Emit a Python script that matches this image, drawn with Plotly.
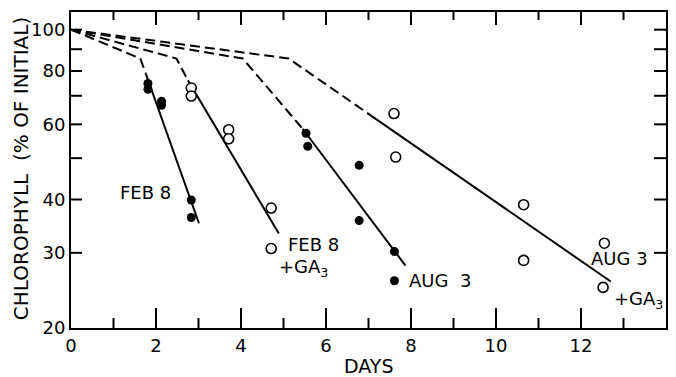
import plotly.graph_objects as go
import math

# ---------------- data ----------------
feb8_days = [1.81, 1.81, 2.13, 2.13, 2.83, 2.83]
feb8_chl = [74.8, 72.5, 68.0, 66.5, 39.9, 36.3]

feb8ga_days = [2.83, 2.83, 3.71, 3.71, 4.71, 4.71]
feb8ga_chl = [73.0, 69.9, 58.3, 55.5, 38.2, 30.7]

aug3_days = [5.53, 5.57, 6.78, 6.78, 7.61, 7.61]
aug3_chl = [57.2, 53.3, 48.1, 35.7, 30.2, 25.8]

aug3ga_days = [7.60, 7.64, 10.65, 10.65, 12.55, 12.52]
aug3ga_chl = [63.6, 50.3, 38.9, 28.8, 31.6, 24.9]

# fitted curves: dashed part then solid part
feb8_dash_x = [0, 1.63, 1.76]
feb8_dash_y = [100, 85.6, 78.9]
feb8_solid_x = [1.76, 3.01]
feb8_solid_y = [78.9, 35.2]

feb8ga_dash_x = [0, 2.48, 2.75]
feb8ga_dash_y = [100, 85.6, 76.1]
feb8ga_solid_x = [2.75, 4.89]
feb8ga_solid_y = [76.1, 33.3]

aug3_dash_x = [0, 4.04, 5.45]
aug3_dash_y = [100, 85.6, 58.6]
aug3_solid_x = [5.45, 7.87]
aug3_solid_y = [58.6, 28.0]

aug3ga_dash_x = [0, 5.12, 7.05]
aug3ga_dash_y = [100, 85.6, 63.0]
aug3ga_solid_x = [7.05, 12.70]
aug3ga_solid_y = [63.0, 25.7]

x_ticks = [0, 2, 4, 6, 8, 10, 12, 14]
x_minor = [1, 3, 5, 7, 9, 11, 13]
y_ticks = [20, 30, 40, 60, 80, 100]
y_tick_marks = [30, 40, 50, 60, 70, 80, 90, 100]

# ---------------- figure ----------------
W, H = 676, 377
L, R, T, B = 71, 8, 12, 49
PW = W - L - R
PH = H - T - B
FONT = "DejaVu Sans"
INK = "black"
X_RANGE = [0, 14]
Y_LO, Y_HI = 20, 110
yr = [math.log10(Y_LO), math.log10(Y_HI)]

fig = go.Figure()

def add_line(xs, ys, dash):
    fig.add_trace(go.Scatter(x=xs, y=ys, mode="lines",
                             line=dict(color=INK, width=2, dash=dash),
                             showlegend=False, hoverinfo="skip"))

for xs, ys in [(feb8_dash_x, feb8_dash_y), (feb8ga_dash_x, feb8ga_dash_y),
               (aug3_dash_x, aug3_dash_y), (aug3ga_dash_x, aug3ga_dash_y)]:
    add_line(xs, ys, "10px,5px")
for xs, ys in [(feb8_solid_x, feb8_solid_y), (feb8ga_solid_x, feb8ga_solid_y),
               (aug3_solid_x, aug3_solid_y), (aug3ga_solid_x, aug3ga_solid_y)]:
    add_line(xs, ys, "solid")

# inward tick marks along the frame, built from the tick arrays on the axis scales
px_per_decade = PH / (yr[1] - yr[0])
x_per_px = (X_RANGE[1] - X_RANGE[0]) / PW

tx, ty = [], []
def seg(x0, y0, x1, y1):
    tx.extend([x0, x1, None])
    ty.extend([y0, y1, None])

for v in x_ticks[1:-1]:
    seg(v, Y_LO, v, Y_LO * 10 ** (20 / px_per_decade))
    seg(v, Y_HI, v, Y_HI / 10 ** (13 / px_per_decade))
for v in x_minor:
    seg(v, Y_LO, v, Y_LO * 10 ** (10 / px_per_decade))
    seg(v, Y_HI, v, Y_HI / 10 ** (8 / px_per_decade))
for v in y_tick_marks:
    seg(X_RANGE[0], v, X_RANGE[0] + 11 * x_per_px, v)
    seg(X_RANGE[1], v, X_RANGE[1] - 12 * x_per_px, v)

fig.add_trace(go.Scatter(x=tx, y=ty, mode="lines", line=dict(color=INK, width=2),
                         connectgaps=False, showlegend=False, hoverinfo="skip"))

filled = dict(symbol="circle", size=9, color=INK, line=dict(width=0))
opened = dict(symbol="circle", size=10, color="white", line=dict(color=INK, width=1.6))

fig.add_trace(go.Scatter(x=feb8_days, y=feb8_chl, mode="markers", marker=filled, showlegend=False))
fig.add_trace(go.Scatter(x=feb8ga_days, y=feb8ga_chl, mode="markers", marker=opened, showlegend=False))
fig.add_trace(go.Scatter(x=aug3_days, y=aug3_chl, mode="markers", marker=filled, showlegend=False))
fig.add_trace(go.Scatter(x=aug3ga_days, y=aug3ga_chl, mode="markers", marker=opened, showlegend=False))

fig.update_layout(
    width=W, height=H,
    margin=dict(l=L, r=R, t=T, b=B, pad=0),
    paper_bgcolor="white", plot_bgcolor="white",
    font=dict(family=FONT, color=INK),
    xaxis=dict(range=X_RANGE, tickvals=x_ticks, ticks="", showline=True, linecolor=INK,
               linewidth=2, mirror=True, showgrid=False, zeroline=False,
               tickfont=dict(size=18, family=FONT)),
    yaxis=dict(type="log", range=yr, tickvals=y_ticks, ticktext=[str(v) for v in y_ticks],
               ticks="", showline=True, linecolor=INK, linewidth=2, mirror=True,
               showgrid=False, zeroline=False, tickfont=dict(size=18, family=FONT)),
)

def px(xp):
    return (xp - L) / PW

def py(yp):
    return (H - B - yp) / PH

def label(text, xp, yp, size=18, xanchor="left", angle=0):
    fig.add_annotation(text=text, xref="paper", yref="paper", x=px(xp), y=py(yp),
                       xanchor=xanchor, yanchor="middle", showarrow=False,
                       textangle=angle, font=dict(size=size, family=FONT, color=INK))

label("FEB 8", 118, 193)
label("FEB 8", 287, 245)
label("+GA<sub>3</sub>", 278, 268)
label("AUG  3", 408, 280)
label("AUG 3", 591, 258)
label("+GA<sub>3</sub>", 614, 300)
label("DAYS", 370, 366, size=19, xanchor="center")
label("CHLOROPHYLL  (% OF INITIAL)", 21, 169, size=20, xanchor="center", angle=-90)

fig.write_html("out.html", config={"displayModeBar": False},
               post_script="document.body.style.margin='0';document.body.style.padding='0';"
                           "document.body.style.overflow='hidden';")
